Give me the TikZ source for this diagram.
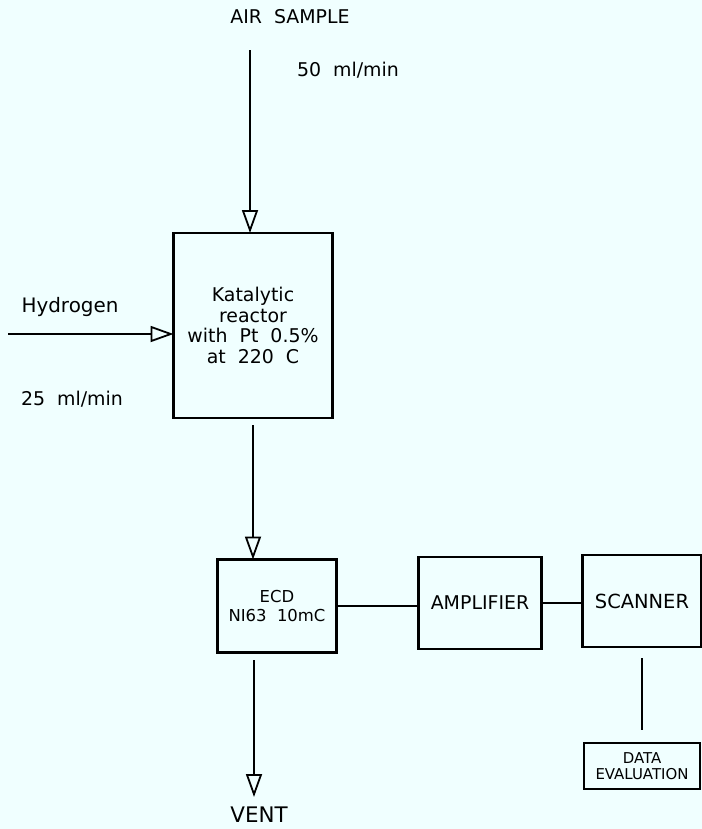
\documentclass[tikz,border=0pt]{standalone}
\usepackage{fontspec}
\setmainfont{DejaVu Sans}
\usetikzlibrary{arrows.meta}
\definecolor{bgc}{HTML}{F0FFFF}
\begin{document}
\begin{tikzpicture}[x=1bp,y=-1bp,
  line width=2.2bp,
  box/.style={draw,inner sep=0pt,outer sep=0pt,align=center},
  lbl/.style={inner sep=0pt,align=center,font=\fontsize{20}{22}\selectfont},
  arr/.style={-{Triangle[open,length=23bp,width=16bp,line width=1.8bp]}},
]
\fill[bgc] (0,0) rectangle (702,829);
\useasboundingbox (0,0) rectangle (702,829);

% boxes
\node[box,minimum width=159bp,minimum height=185bp,font=\fontsize{19}{20.5}\selectfont] (reactor) at (253,325.5)
  {Katalytic\\reactor\\with\ \ Pt\ \ 0.5\%\\at\ \ 220\ \ C};
\node[box,minimum width=119bp,minimum height=93bp,font=\fontsize{16.5}{18.5}\selectfont] (ecd) at (277,606)
  {ECD\\NI63\ \ 10mC};
\node[box,minimum width=123bp,minimum height=92bp,font=\fontsize{19}{20}\selectfont] (amp) at (480,603) {AMPLIFIER};
\node[box,minimum width=119bp,minimum height=92bp,font=\fontsize{19.5}{20}\selectfont] (scanner) at (642,601) {SCANNER};
\node[box,minimum width=116bp,minimum height=46bp,font=\fontsize{15}{16.5}\selectfont] (data) at (642,766) {DATA\\EVALUATION};

% labels
\node[lbl,font=\fontsize{19}{22}\selectfont] (air) at (290,17) {AIR\ \ SAMPLE};
\node[lbl,font=\fontsize{19}{22}\selectfont] (f50) at (348,70) {50\ \ ml/min};
\node[lbl] (hyd) at (70,307) {Hydrogen};
\node[lbl,font=\fontsize{19}{22}\selectfont] (f25) at (72,399) {25\ \ ml/min};
\node[lbl,font=\fontsize{21.5}{22}\selectfont] (vent) at (259,815) {VENT};

% free ends
\coordinate (airtop) at (250,50);
\coordinate (h2start) at (8,334);
\coordinate (ecdout) at (254,660);
\coordinate (venttip) at (254,797);

% connectors
\draw[arr] (airtop) -- (airtop |- reactor.north);
\draw[arr] (h2start) -- (h2start -| reactor.west);
\draw[arr] ([yshift=-7bp]reactor.south) -- (reactor.south |- ecd.north);
\draw[arr] (ecdout) -- (venttip);
\draw (ecd.east) -- (ecd.east -| amp.west);
\draw (amp.east) -- (amp.east -| scanner.west);
\draw ([yshift=-11bp]scanner.south) -- ([yshift=13bp]data.north);
\end{tikzpicture}
\end{document}
